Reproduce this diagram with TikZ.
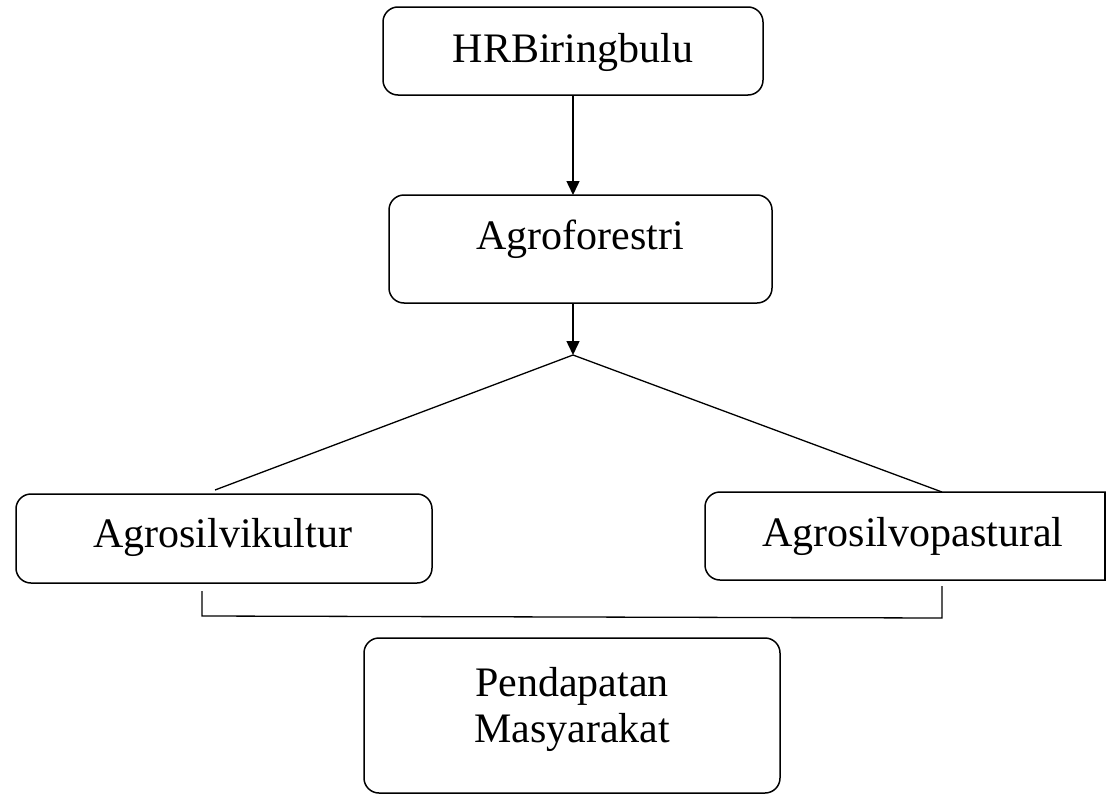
\documentclass[tikz,border=0pt]{standalone}
\usepackage{fontspec}
\setmainfont{Liberation Serif}
\usetikzlibrary{arrows.meta}
\begin{document}
\begin{tikzpicture}[x=1pt,y=-1pt,line width=1.5pt,
  box/.style={draw,rounded corners=15pt,line width=1.5pt,inner sep=0pt,outer sep=0pt},
  lbl/.style={anchor=base,font=\fontsize{42}{46}\selectfont,inner sep=0pt,align=center},
  arr/.style={-{Triangle[length=14pt,width=13pt]}},
  conn/.style={line width=1.3pt}]
\useasboundingbox (0,0) rectangle (1106,795);
\clip (0,0) rectangle (1106,795);
% boxes
\node[box,minimum width=380pt,minimum height=88pt] (top) at (573,51) {};
\node[box,minimum width=383pt,minimum height=108pt] (agro) at (580.5,249) {};
\node[box,minimum width=416pt,minimum height=89pt] (silvi) at (224,538.5) {};
\node[box,minimum width=416pt,minimum height=88pt] (pastoral) at (913,536) {};
\node[box,minimum width=416pt,minimum height=155pt] (income) at (572,715.5) {};
% labels
\node[lbl] (ttop) at (573,62) {HRBiringbulu};
\node[lbl] (tagro) at (580,249) {Agroforestri};
\node[lbl] (tsilvi) at (222.5,547) {Agrosilvikultur};
\node[lbl] (tpast) at (913,546) {Agrosilvopastural};
\node[lbl] (tinc1) at (572,696) {Pendapatan};
\node[lbl] (tinc2) at (572,742) {Masyarakat};
% connectors
\coordinate (apex) at (573,355);
\coordinate (lend) at (215,490);
\coordinate (rend) at (942,492);
\coordinate (bl1) at (202,591);
\coordinate (bl2) at (202,616);
\coordinate (br2) at (942,618);
\coordinate (br1) at (942,586);
\draw[arr] (apex |- top.south) -- (apex |- agro.north);
\draw[arr] (apex |- agro.south) -- (apex);
\draw[conn] (lend) -- (apex) -- (rend);
\draw[conn] (bl1) -- (bl2) -- (br2) -- (br1);
\draw[line width=1.5pt] (1105,492) -- (1105,580);
\end{tikzpicture}
\end{document}
